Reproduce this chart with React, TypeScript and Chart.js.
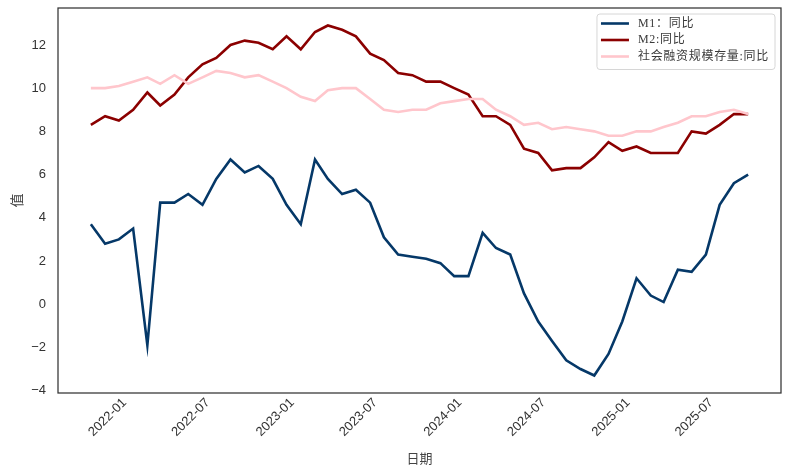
import React, { useEffect, useRef } from 'react';
import { Chart, registerables } from 'chart.js';

Chart.register(...registerables);

const months = [
  '2021-09', '2021-10', '2021-11', '2021-12',
  '2022-01', '2022-02', '2022-03', '2022-04', '2022-05', '2022-06', '2022-07', '2022-08', '2022-09', '2022-10', '2022-11', '2022-12',
  '2023-01', '2023-02', '2023-03', '2023-04', '2023-05', '2023-06', '2023-07', '2023-08', '2023-09', '2023-10', '2023-11', '2023-12',
  '2024-01', '2024-02', '2024-03', '2024-04', '2024-05', '2024-06', '2024-07', '2024-08', '2024-09', '2024-10', '2024-11', '2024-12',
  '2025-01', '2025-02', '2025-03', '2025-04', '2025-05', '2025-06', '2025-07', '2025-08',
];

const m1Values = [
  3.7, 2.8, 3.0, 3.5,
  -1.9, 4.7, 4.7, 5.1, 4.6, 5.8, 6.7, 6.1, 6.4, 5.8, 4.6, 3.7,
  6.7, 5.8, 5.1, 5.3, 4.7, 3.1, 2.3, 2.2, 2.1, 1.9, 1.3, 1.3,
  3.3, 2.6, 2.3, 0.5, -0.8, -1.7, -2.6, -3.0, -3.3, -2.3, -0.8, 1.2,
  0.4, 0.1, 1.6, 1.5, 2.3, 4.6, 5.6, 6.0,
];

const m2Values = [
  8.3, 8.7, 8.5, 9.0,
  9.8, 9.2, 9.7, 10.5, 11.1, 11.4, 12.0, 12.2, 12.1, 11.8, 12.4, 11.8,
  12.6, 12.9, 12.7, 12.4, 11.6, 11.3, 10.7, 10.6, 10.3, 10.3, 10.0, 9.7,
  8.7, 8.7, 8.3, 7.2, 7.0, 6.2, 6.3, 6.3, 6.8, 7.5, 7.1, 7.3,
  7.0, 7.0, 7.0, 8.0, 7.9, 8.3, 8.8, 8.8,
];

const tsfValues = [
  10.0, 10.0, 10.1, 10.3,
  10.5, 10.2, 10.6, 10.2, 10.5, 10.8, 10.7, 10.5, 10.6, 10.3, 10.0, 9.6,
  9.4, 9.9, 10.0, 10.0, 9.5, 9.0, 8.9, 9.0, 9.0, 9.3, 9.4, 9.5,
  9.5, 9.0, 8.7, 8.3, 8.4, 8.1, 8.2, 8.1, 8.0, 7.8, 7.8, 8.0,
  8.0, 8.2, 8.4, 8.7, 8.7, 8.9, 9.0, 8.8,
];

const seriesLabels = ['M1：同比', 'M2:同比', '社会融资规模存量:同比'];
const xTickLabels = ['2022-01', '2022-07', '2023-01', '2023-07', '2024-01', '2024-07', '2025-01', '2025-07'];
const yTickValues = [-4, -2, 0, 2, 4, 6, 8, 10, 12];
const xTitle = '日期';
const yTitle = '值';

const monthEnd = (ym: string) => {
  const [y, m] = ym.split('-').map(Number);
  return Date.UTC(y, m, 0);
};
const monthStart = (ym: string) => {
  const [y, m] = ym.split('-').map(Number);
  return Date.UTC(y, m - 1, 1);
};

const LATIN = "'Liberation Sans', Arial, sans-serif";
const CJK = "'Liberation Serif', 'Noto Sans CJK SC', serif";

const framePlugin = {
  id: 'frameBox',
  afterDatasetsDraw(chart: any) {
    const { ctx, chartArea } = chart;
    const { left, top, right, bottom } = chartArea;
    ctx.save();
    ctx.strokeStyle = '#333333';
    ctx.lineWidth = 1.25;
    ctx.strokeRect(left, top, right - left, bottom - top);
    ctx.restore();
  },
};

const legendPlugin = {
  id: 'boxLegend',
  afterDraw(chart: any) {
    const { ctx, chartArea } = chart;
    const datasets = chart.data.datasets;
    ctx.save();
    ctx.font = `12px ${CJK}`;
    try { (ctx as any).letterSpacing = '0.7px'; } catch (e) { /* ignore */ }
    let maxW = 0;
    datasets.forEach((d: any) => {
      maxW = Math.max(maxW, ctx.measureText(d.label).width);
    });
    const lineLen = 28;
    const padL = 4;
    const gap = 9;
    const padR = 6;
    const rowH = 16.5;
    const boxW = padL + lineLen + gap + maxW + padR;
    const boxH = 10 + rowH * datasets.length - 4;
    const boxRight = chartArea.right - 6;
    const boxTop = chartArea.top + 6;
    const boxLeft = boxRight - boxW;
    const r = 3;
    ctx.beginPath();
    ctx.moveTo(boxLeft + r, boxTop);
    ctx.lineTo(boxRight - r, boxTop);
    ctx.quadraticCurveTo(boxRight, boxTop, boxRight, boxTop + r);
    ctx.lineTo(boxRight, boxTop + boxH - r);
    ctx.quadraticCurveTo(boxRight, boxTop + boxH, boxRight - r, boxTop + boxH);
    ctx.lineTo(boxLeft + r, boxTop + boxH);
    ctx.quadraticCurveTo(boxLeft, boxTop + boxH, boxLeft, boxTop + boxH - r);
    ctx.lineTo(boxLeft, boxTop + r);
    ctx.quadraticCurveTo(boxLeft, boxTop, boxLeft + r, boxTop);
    ctx.closePath();
    ctx.fillStyle = 'rgba(255,255,255,0.8)';
    ctx.fill();
    ctx.strokeStyle = '#d6d6d6';
    ctx.lineWidth = 1;
    ctx.stroke();
    datasets.forEach((d: any, i: number) => {
      const cy = boxTop + 9.5 + rowH * i;
      ctx.beginPath();
      ctx.strokeStyle = d.borderColor;
      ctx.lineWidth = d.borderWidth;
      ctx.moveTo(boxLeft + padL, cy);
      ctx.lineTo(boxLeft + padL + lineLen, cy);
      ctx.stroke();
      ctx.fillStyle = '#3a3a3a';
      ctx.textBaseline = 'middle';
      ctx.textAlign = 'left';
      ctx.fillText(d.label, boxLeft + padL + lineLen + gap, cy);
    });
    ctx.restore();
  },
};

export default function App() {
  const canvasRef = useRef<HTMLCanvasElement | null>(null);

  useEffect(() => {
    if (!canvasRef.current) return;
    const xs = months.map(monthEnd);
    const xMinData = xs[0];
    const xMaxData = xs[xs.length - 1];
    const xSpan = xMaxData - xMinData;
    const allVals = [...m1Values, ...m2Values, ...tsfValues];
    const yMinData = Math.min(...allVals);
    const yMaxData = Math.max(...allVals);
    const ySpan = yMaxData - yMinData;

    const mk = (vals: number[]) => vals.map((v, i) => ({ x: xs[i], y: v }));

    const chart = new Chart(canvasRef.current, {
      type: 'line',
      data: {
        datasets: [
          {
            label: seriesLabels[0],
            data: mk(m1Values),
            borderColor: '#053868',
            borderWidth: 2.6,
            pointRadius: 0,
            tension: 0,
            order: 3,
          },
          {
            label: seriesLabels[1],
            data: mk(m2Values),
            borderColor: '#8b0000',
            borderWidth: 2.6,
            pointRadius: 0,
            tension: 0,
            order: 2,
          },
          {
            label: seriesLabels[2],
            data: mk(tsfValues),
            borderColor: '#ffc6cc',
            borderWidth: 2.6,
            pointRadius: 0,
            tension: 0,
            order: 1,
          },
        ],
      },
      options: {
        animation: false,
        responsive: true,
        maintainAspectRatio: false,
        layout: { padding: { left: 0, top: 8, right: 10, bottom: 0 } },
        plugins: {
          legend: { display: false },
          tooltip: { enabled: false },
        },
        scales: {
          x: {
            type: 'linear',
            min: xMinData - 0.05 * xSpan,
            max: xMaxData + 0.05 * xSpan,
            grid: { display: false, drawTicks: false },
            border: { display: false },
            afterBuildTicks: (scale: any) => {
              scale.ticks = xTickLabels.map((l) => ({ value: monthStart(l) }));
            },
            afterFit: (scale: any) => {
              scale.height = 82;
              scale.paddingLeft = 0;
              scale.paddingRight = 0;
            },
            ticks: {
              autoSkip: false,
              maxRotation: 45,
              minRotation: 45,
              padding: 2,
              labelOffset: -9,
              color: '#333333',
              font: { family: LATIN, size: 13 },
              callback: (_v: any, i: number) => xTickLabels[i],
            },
            title: {
              display: true,
              text: xTitle,
              color: '#444444',
              font: { family: CJK, size: 13 },
              padding: { top: 0, bottom: 8 },
            },
          },
          y: {
            type: 'linear',
            min: yMinData - 0.05 * ySpan,
            max: yMaxData + 0.05 * ySpan,
            grid: { display: false, drawTicks: false },
            border: { display: false },
            afterBuildTicks: (scale: any) => {
              scale.ticks = yTickValues.map((v) => ({ value: v }));
            },
            afterFit: (scale: any) => {
              scale.width = 58;
              scale.paddingTop = 0;
              scale.paddingBottom = 0;
            },
            ticks: {
              padding: 12,
              color: '#333333',
              font: { family: LATIN, size: 13 },
              callback: (v: any) => (v < 0 ? '\u2212' + Math.abs(v) : String(v)),
            },
            title: {
              display: true,
              text: yTitle,
              color: '#444444',
              font: { family: CJK, size: 14 },
              padding: { top: 10, bottom: 0 },
            },
          },
        },
      },
      plugins: [framePlugin, legendPlugin],
    });
    return () => chart.destroy();
  }, []);

  return (
    <div style={{ position: 'absolute', left: 0, top: 0, width: 791, height: 475, background: '#ffffff' }}>
      <canvas ref={canvasRef} />
    </div>
  );
}
